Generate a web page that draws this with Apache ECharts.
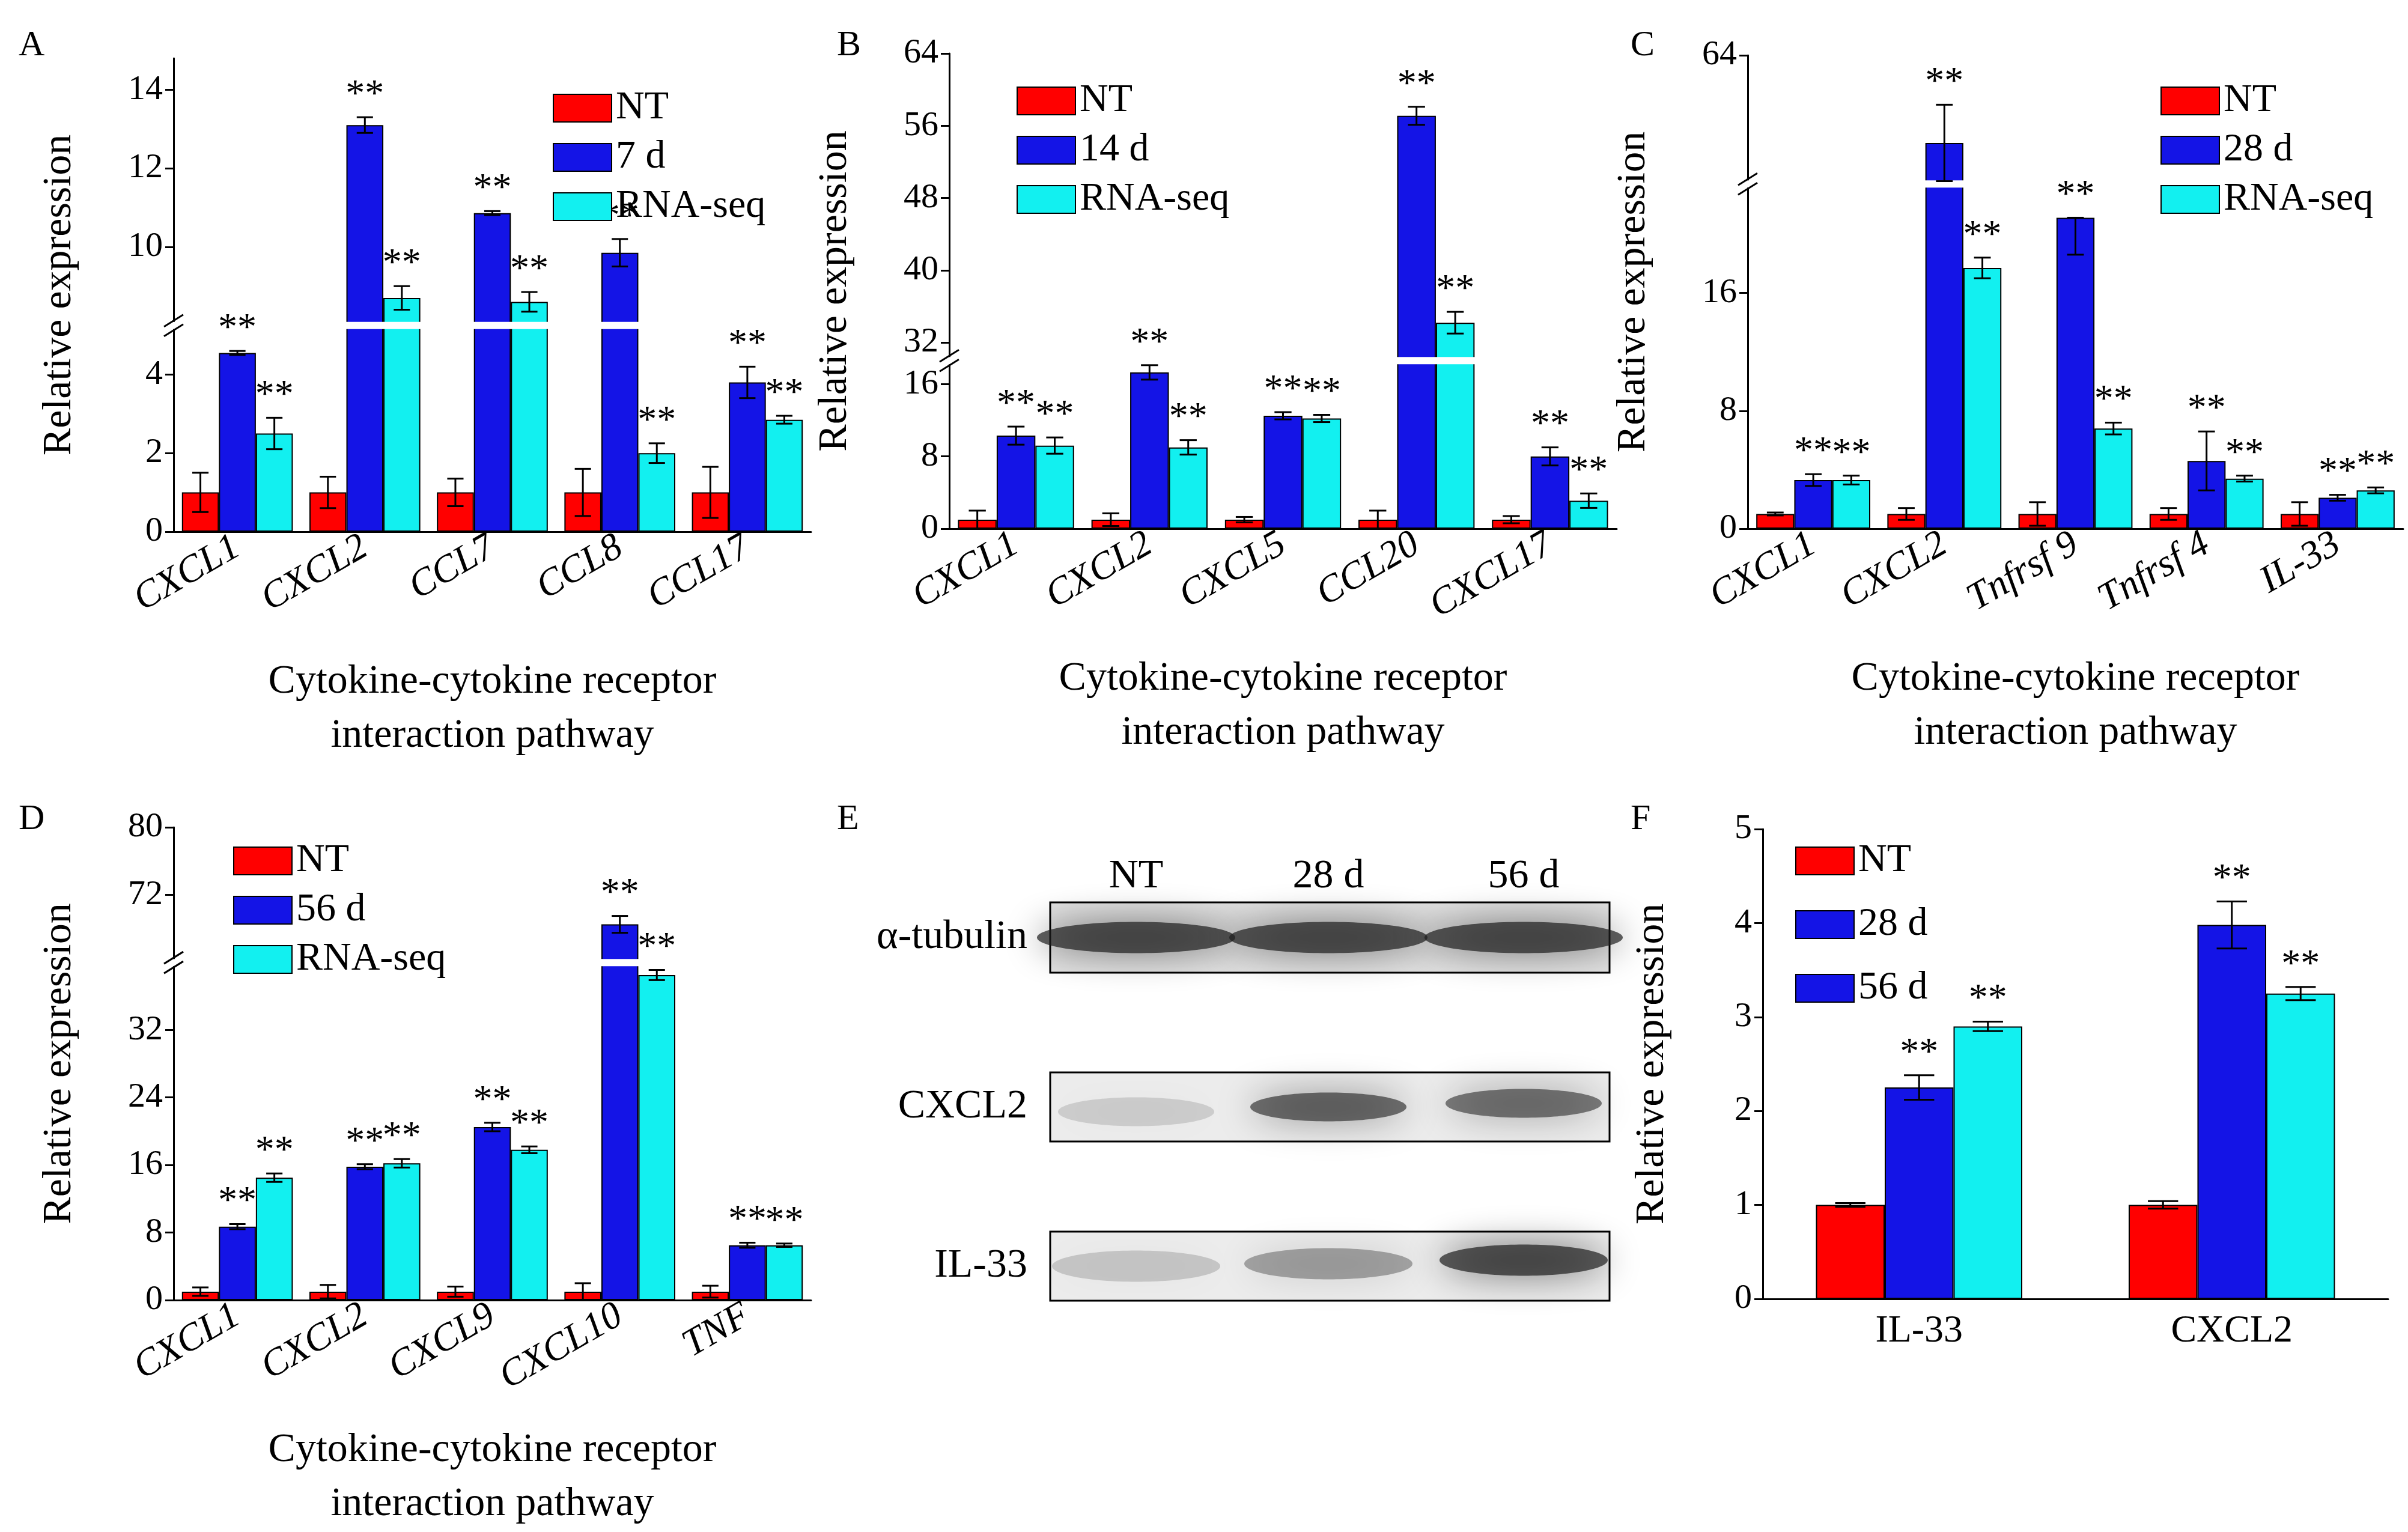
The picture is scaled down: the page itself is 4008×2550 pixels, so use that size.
<!DOCTYPE html>
<html><head><meta charset="utf-8">
<script src="https://cdn.jsdelivr.net/npm/echarts@6/dist/echarts.min.js"></script>
<style>html,body{margin:0;padding:0;background:#fff}#c{width:4008px;height:2550px}</style>
</head><body><div id="c"></div>
<script>
// ---- data ----
const catsA = ['CXCL1','CXCL2','CCL7','CCL8','CCL17'];
const ntA = [1,1,1,1,1];           const ntErrA = [0.5,0.4,0.35,0.6,0.65];
const d7A = [4.55,13.1,10.86,9.85,3.8]; const d7ErrA = [0.05,0.2,0.05,0.35,0.4];
const rnaA = [2.5,8.7,8.6,2.0,2.85];  const rnaErrA = [0.4,0.3,0.25,0.25,0.1];

const catsB = ['CXCL1','CXCL2','CXCL5','CCL20','CXCL17'];
const ntB = [1,1,1,1,1];            const ntErrB = [1,0.7,0.3,1,0.4];
const d14B = [10.3,17.3,12.5,57.1,8]; const d14ErrB = [1,0.8,0.4,1,1];
const rnaB = [9.2,9,12.2,34.2,3.1];  const rnaErrB = [0.9,0.8,0.4,1.2,0.8];

const catsC = ['CXCL1','CXCL2','Tnfrsf 9','Tnfrsf 4','IL-33'];
const ntC = [1,1,1,1,1];            const ntErrC = [0.1,0.4,0.8,0.4,0.8];
const d28C = [3.3,42.2,21.1,4.6,2.1]; const d28ErrC = [0.4,9.5,2.5,2,0.2];
const rnaC = [3.3,17.7,6.8,3.4,2.6];  const rnaErrC = [0.3,0.7,0.4,0.2,0.2];

const catsD = ['CXCL1','CXCL2','CXCL9','CXCL10','TNF'];
const ntD = [1,1,1,1,1];            const ntErrD = [0.5,0.8,0.6,1,0.7];
const d56D = [8.7,15.8,20.5,68.5,6.5]; const d56ErrD = [0.3,0.3,0.5,1,0.3];
const rnaD = [14.5,16.2,17.8,38.5,6.5]; const rnaErrD = [0.5,0.5,0.4,0.6,0.2];

const catsF = ['IL-33','CXCL2'];
const ntF = [1,1];       const ntErrF = [0.02,0.04];
const d28F = [2.25,3.98]; const d28ErrF = [0.13,0.25];
const d56F = [2.9,3.25];  const d56ErrF = [0.05,0.07];

const ticksA = [0,2,4,10,12,14];
const ticksB = [0,8,16,32,40,48,56,64];
const ticksC = [0,8,16,64];
const ticksD = [0,8,16,24,32,72,80];
const ticksF = [0,1,2,3,4,5];

// ---- layout ----
const COLORS = ['#ff0000','#1414e6','#12f0f0'];
const FONT = 'Liberation Serif';
const panels = [
  {cats:catsA, names:['NT','7 d','RNA-seq'], vals:[ntA,d7A,rnaA], errs:[ntErrA,d7ErrA,rnaErrA], ticks:ticksA,
   L:5.25, U:8, k:1, top:14.8, left:289, right:1350, y0:97, y1:885, legend:[915,142], italic:true, rot:30},
  {cats:catsB, names:['NT','14 d','RNA-seq'], vals:[ntB,d14B,rnaB], errs:[ntErrB,d14ErrB,rnaErrB], ticks:ticksB,
   L:18.6, U:30, k:1, top:64, left:1580, right:2691, y0:89, y1:880, legend:[1687,130], italic:true, rot:30},
  {cats:catsC, names:['NT','28 d','RNA-seq'], vals:[ntC,d28C,rnaC], errs:[ntErrC,d28ErrC,rnaErrC], ticks:ticksC,
   L:23.4, U:32, k:0.273, top:64, left:2909, right:4000, y0:92, y1:880, legend:[3591,130], italic:true, rot:30},
  {cats:catsD, names:['NT','56 d','RNA-seq'], vals:[ntD,d56D,rnaD], errs:[ntErrD,d56ErrD,rnaErrD], ticks:ticksD,
   L:40, U:64, k:1, top:80, left:289, right:1350, y0:1377, y1:2165, legend:[383,1395], italic:true, rot:30},
  {cats:catsF, names:['NT','28 d','56 d'], vals:[ntF,d28F,d56F], errs:[ntErrF,d28ErrF,d56ErrF], ticks:ticksF,
   L:Infinity, U:Infinity, k:1, top:5, left:2934, right:3975, y0:1380, y1:2162, legend:[2983,1395], italic:false, rot:0, gapLegend:40, catGap:'34%'}
];
function tf(p,v){ return v<=p.L ? v : p.L + (v-p.U)*p.k; }
function inv(p,t){ return t<=p.L+1e-9 ? t : p.U + (t-p.L)/p.k; }

const chart = echarts.init(document.getElementById('c'));
const grid=[], xAxis=[], yAxis=[], series=[], legend=[], graphic=[];
panels.forEach((p,gi)=>{
  grid.push({left:p.left, top:p.y0, width:p.right-p.left, height:p.y1-p.y0});
  const hasBreak = isFinite(p.L);
  xAxis.push({type:'category', gridIndex:gi, data:p.cats,
    axisLine:{lineStyle:{color:'#000',width:3}}, axisTick:{show:false},
    axisLabel:{color:'#000', fontFamily:FONT, fontSize:64, fontStyle:p.italic?'italic':'normal', rotate:p.rot, margin:22},
    name: gi<4 ? 'Cytokine-cytokine receptor\ninteraction pathway' : '',
    nameLocation:'middle', nameGap:205, nameTextStyle:{color:'#000', fontFamily:FONT, fontSize:68, lineHeight:90}});
  const tv = p.ticks.map(v=>tf(p,v));
  yAxis.push({type:'value', gridIndex:gi, min:0, max:tf(p,p.top),
    splitLine:{show:false},
    axisLine:{show:true, lineStyle:{color:'#000',width:3}},
    axisTick:{show:true, customValues:tv, length:14, lineStyle:{width:3}},
    axisLabel:{color:'#000', fontFamily:FONT, fontSize:58, margin:18, customValues:tv,
      formatter:(t)=>String(Math.round(inv(p,t)))},
    name:'Relative expression', nameLocation:'middle', nameGap: gi===4?150:156,
    nameTextStyle:{color:'#000', fontFamily:FONT, fontSize:68}});
  p.names.forEach((nm,si)=>{
    series.push({type:'bar', name:nm, xAxisIndex:gi, yAxisIndex:gi, barGap:'0%', barCategoryGap:p.catGap||'13%',
      itemStyle:{color:COLORS[si], borderColor:'#000', borderWidth:2},
      data:p.vals[si].map(v=>tf(p,v)), z:2});
  });
  const edata=[];
  p.cats.forEach((c,ci)=>{ for(let si=0;si<3;si++) edata.push([ci, si, p.vals[si][ci], p.errs[si][ci], si>0?1:0]); });
  const gapFrac = parseFloat(p.catGap||'13%')/100;
  series.push({type:'custom', xAxisIndex:gi, yAxisIndex:gi, z:20, data:edata, encode:{x:0,y:2},
    renderItem:(params, api)=>{
      const ci=api.value(0), si=api.value(1), v=api.value(2), e=api.value(3), star=api.value(4);
      const c=api.coord([ci,0]); const band=api.size([1,0])[0];
      const bw=band*(1-gapFrac)/3; const x=c[0]+(si-1)*bw;
      const yt=api.coord([ci,tf(p,v+e)])[1], yb=api.coord([ci,tf(p,Math.max(0,v-e))])[1];
      const cap=bw*0.22;
      const st={stroke:'#000', lineWidth:3};
      const ch=[
        {type:'line', shape:{x1:x,y1:yt,x2:x,y2:yb}, style:st},
        {type:'line', shape:{x1:x-cap,y1:yt,x2:x+cap,y2:yt}, style:st},
        {type:'line', shape:{x1:x-cap,y1:yb,x2:x+cap,y2:yb}, style:st}];
      if(star) ch.push({type:'text', style:{text:'**', x:x, y:yt-4, align:'center', verticalAlign:'bottom',
        fill:'#000', font:'64px "'+FONT+'"'}});
      return {type:'group', children:ch};
    }});
  if(hasBreak){
    const yb = p.y1 - (p.L/tf(p,p.top))*(p.y1-p.y0);
    graphic.push({type:'rect', z:3, shape:{x:p.left-6, y:yb-6, width:p.right-p.left-4, height:12}, style:{fill:'#fff'}});
    graphic.push({type:'line', z:11, shape:{x1:p.left-16,y1:yb+2,x2:p.left+16,y2:yb-18}, style:{stroke:'#000',lineWidth:3}});
    graphic.push({type:'line', z:11, shape:{x1:p.left-16,y1:yb+18,x2:p.left+16,y2:yb-2}, style:{stroke:'#000',lineWidth:3}});
  }
  legend.push({orient:'vertical', left:p.legend[0], top:p.legend[1], itemWidth:97, itemHeight:46, itemGap:p.gapLegend||16,
    z:30, data:p.names.map(n=>({name:n, icon:'rect'})), selectedMode:false,
    itemStyle:{borderColor:'#000', borderWidth:2},
    textStyle:{color:'#000', fontFamily:FONT, fontSize:66, padding:[0,0,0,2]}});
});

// panel letters
[['A',31,46],['B',1393,46],['C',2714,46],['D',31,1334],['E',1393,1334],['F',2714,1334]].forEach(a=>{
  graphic.push({type:'text', left:a[1], top:a[2], style:{text:a[0], fill:'#000', font:'60px "'+FONT+'"'}});
});
// Western blot (panel E)
const lanes=[1891,2211,2536];
[['NT',0],['28 d',1],['56 d',2]].forEach(a=>graphic.push({type:'text', x:lanes[a[1]], y:1459,
  style:{text:a[0], align:'center', verticalAlign:'middle', fill:'#000', font:'68px "'+FONT+'"'}}));
const rows=[{lab:'α-tubulin', y0:1502, y1:1619, bg:'#e2e2e2', dens:[0.7,0.7,0.7], dy:[0,0,0], rx:165, ry:26},
            {lab:'CXCL2', y0:1785, y1:1900, bg:'#ececec', dens:[0.15,0.6,0.55], dy:[8,0,-6], rx:130, ry:24},
            {lab:'IL-33', y0:2050, y1:2165, bg:'#ececec', dens:[0.18,0.35,0.7], dy:[0,-4,-10], rx:140, ry:26}];
rows.forEach(r=>{
  const cy=(r.y0+r.y1)/2;
  graphic.push({type:'rect', shape:{x:1748,y:r.y0,width:931,height:r.y1-r.y0}, style:{fill:r.bg, stroke:'#000', lineWidth:3}, z:1});
  graphic.push({type:'text', x:1710, y:cy, style:{text:r.lab, align:'right', verticalAlign:'middle', fill:'#000', font:'68px "'+FONT+'"'}});
  lanes.forEach((lx,i)=>{
    graphic.push({type:'ellipse', z:2, shape:{cx:lx, cy:cy+r.dy[i], rx:r.rx, ry:r.ry},
      style:{fill:'rgba(30,30,30,'+r.dens[i]+')', shadowBlur:60, shadowColor:'rgba(0,0,0,'+r.dens[i]+')'}});
  });
});

chart.setOption({animation:false, backgroundColor:'#fff', grid, xAxis, yAxis, series, legend, graphic});
</script></body></html>
